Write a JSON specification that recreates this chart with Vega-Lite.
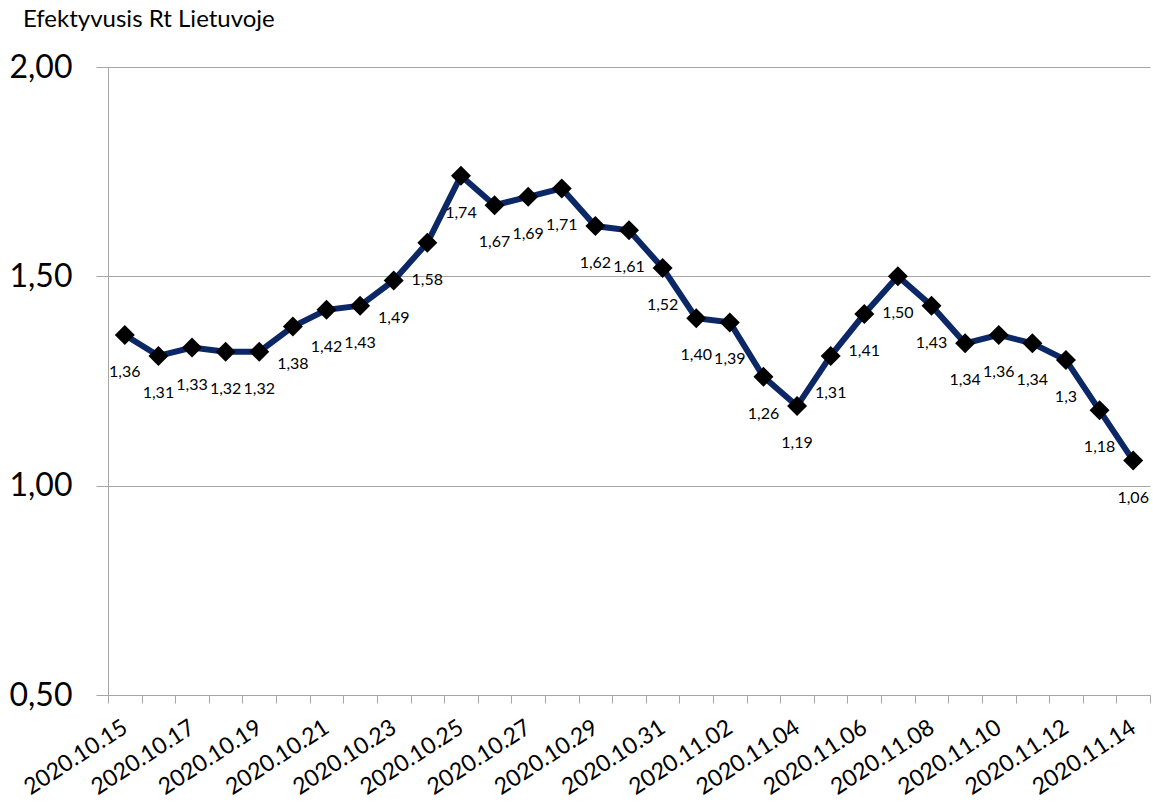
{
  "$schema": "https://vega.github.io/schema/vega-lite/v6.json",
  "width": 1042,
  "height": 628,
  "autosize": {"type": "none"},
  "padding": {"left": 108, "top": 67, "right": 3, "bottom": 108},
  "background": "white",
  "title": {"text": "Efektyvusis Rt Lietuvoje", "anchor": "start", "frame": "group", "dx": -85, "offset": 19, "fontSize": 24, "fontWeight": "normal", "font": "Lato", "color": "black"},
  "config": {"view": {"stroke": null}, "font": "Lato"},
  "data": {"values": [
    {"d": "2020.10.15", "rt": 1.36, "lbl": "1,36"},
    {"d": "2020.10.16", "rt": 1.31, "lbl": "1,31"},
    {"d": "2020.10.17", "rt": 1.33, "lbl": "1,33"},
    {"d": "2020.10.18", "rt": 1.32, "lbl": "1,32"},
    {"d": "2020.10.19", "rt": 1.32, "lbl": "1,32"},
    {"d": "2020.10.20", "rt": 1.38, "lbl": "1,38"},
    {"d": "2020.10.21", "rt": 1.42, "lbl": "1,42"},
    {"d": "2020.10.22", "rt": 1.43, "lbl": "1,43"},
    {"d": "2020.10.23", "rt": 1.49, "lbl": "1,49"},
    {"d": "2020.10.24", "rt": 1.58, "lbl": "1,58"},
    {"d": "2020.10.25", "rt": 1.74, "lbl": "1,74"},
    {"d": "2020.10.26", "rt": 1.67, "lbl": "1,67"},
    {"d": "2020.10.27", "rt": 1.69, "lbl": "1,69"},
    {"d": "2020.10.28", "rt": 1.71, "lbl": "1,71"},
    {"d": "2020.10.29", "rt": 1.62, "lbl": "1,62"},
    {"d": "2020.10.30", "rt": 1.61, "lbl": "1,61"},
    {"d": "2020.10.31", "rt": 1.52, "lbl": "1,52"},
    {"d": "2020.11.01", "rt": 1.40, "lbl": "1,40"},
    {"d": "2020.11.02", "rt": 1.39, "lbl": "1,39"},
    {"d": "2020.11.03", "rt": 1.26, "lbl": "1,26"},
    {"d": "2020.11.04", "rt": 1.19, "lbl": "1,19"},
    {"d": "2020.11.05", "rt": 1.31, "lbl": "1,31"},
    {"d": "2020.11.06", "rt": 1.41, "lbl": "1,41"},
    {"d": "2020.11.07", "rt": 1.50, "lbl": "1,50"},
    {"d": "2020.11.08", "rt": 1.43, "lbl": "1,43"},
    {"d": "2020.11.09", "rt": 1.34, "lbl": "1,34"},
    {"d": "2020.11.10", "rt": 1.36, "lbl": "1,36"},
    {"d": "2020.11.11", "rt": 1.34, "lbl": "1,34"},
    {"d": "2020.11.12", "rt": 1.30, "lbl": "1,3"},
    {"d": "2020.11.13", "rt": 1.18, "lbl": "1,18"},
    {"d": "2020.11.14", "rt": 1.06, "lbl": "1,06"}
  ]},
  "encoding": {
    "x": {
      "field": "d", "type": "ordinal", "sort": null,
      "scale": {"type": "band", "paddingInner": 0, "paddingOuter": 0},
      "axis": {
        "title": null,
        "tickBand": "extent",
        "grid": false,
        "domainColor": "#a6a6a6",
        "tickColor": "#a6a6a6",
        "tickSize": 8,
        "labelAngle": -33,
        "labelAlign": "right",
        "labelBaseline": "middle",
        "labelPadding": 22,
        "labelFontSize": 23,
        "labelColor": "black",
        "labelFont": "Lato",
        "labelOverlap": false,
        "labelExpr": "indexof(['2020.10.15','2020.10.17','2020.10.19','2020.10.21','2020.10.23','2020.10.25','2020.10.27','2020.10.29','2020.10.31','2020.11.02','2020.11.04','2020.11.06','2020.11.08','2020.11.10','2020.11.12','2020.11.14'], datum.value) >= 0 ? datum.value : ''"
      }
    },
    "y": {
      "field": "rt", "type": "quantitative",
      "scale": {"domain": [0.5, 2], "nice": false, "zero": false},
      "axis": {
        "title": null,
        "values": [0.5, 1, 1.5, 2],
        "grid": true,
        "gridColor": "#a6a6a6",
        "domainColor": "#a6a6a6",
        "tickColor": "#a6a6a6",
        "tickSize": 12,
        "labelPadding": 24,
        "labelFontSize": 32,
        "labelColor": "black",
        "labelFont": "Lato",
        "labelExpr": "replace(format(datum.value, '.2f'), '.', ',')"
      }
    }
  },
  "layer": [
    {"mark": {"type": "line", "color": "#0c2766", "strokeWidth": 6}},
    {"mark": {"type": "point", "shape": "diamond", "size": 400, "filled": true, "color": "black", "opacity": 1}},
    {"mark": {"type": "text", "dy": 37, "fontSize": 16, "color": "black", "font": "Lato"}, "encoding": {"text": {"field": "lbl"}}}
  ]
}
